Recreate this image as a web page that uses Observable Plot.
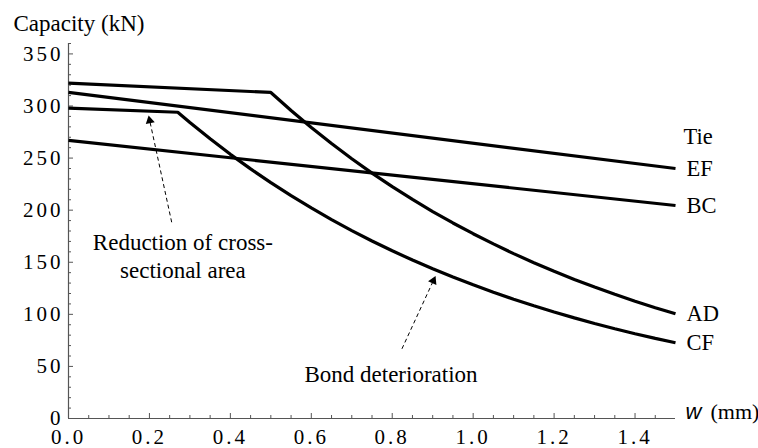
<!DOCTYPE html>
<html><head><meta charset="utf-8">
<script src="https://cdn.jsdelivr.net/npm/d3@7"></script>
<script src="https://cdn.jsdelivr.net/npm/@observablehq/plot@0.6"></script>
<style>
html,body{margin:0;padding:0;background:#fff;}
#chart svg{display:block;font-family:"Liberation Serif","Times New Roman",serif;}
#chart g[aria-label="x-axis tick label"], #chart g[aria-label="y-axis tick label"]{letter-spacing:3px;}
</style></head><body><div id="chart"></div>
<script>
// ---- data ----
const tieNames = ["EF", "BC", "AD", "CF"];
const wEF = [0.0, 1.5];
const capEF = [313, 240];
const wBC = [0.0, 1.5];
const capBC = [267, 204.5];
const wAD = [0.0, 0.5, 0.55, 0.6, 0.65, 0.7, 0.75, 0.8, 0.85, 0.9, 0.95, 1.0, 1.05, 1.1, 1.15, 1.2, 1.25, 1.3, 1.35, 1.4, 1.45, 1.5];
const capAD = [322, 313, 295.7, 279.4, 264.0, 249.4, 235.6, 222.6, 210.3, 198.7, 187.7, 177.4, 167.6, 158.3, 149.6, 141.3, 133.5, 126.2, 119.2, 112.6, 106.4, 100.5];
const wCF = [0.0, 0.27, 0.3, 0.35, 0.4, 0.45, 0.5, 0.55, 0.6, 0.65, 0.7, 0.75, 0.8, 0.85, 0.9, 0.95, 1.0, 1.05, 1.1, 1.15, 1.2, 1.25, 1.3, 1.35, 1.4, 1.45, 1.5];
const capCF = [298, 294, 284.2, 268.5, 253.6, 239.6, 226.4, 213.9, 202.1, 190.9, 180.4, 170.4, 161.0, 152.1, 143.7, 135.8, 128.3, 121.2, 114.5, 108.2, 102.2, 96.6, 91.2, 86.2, 81.4, 76.9, 72.7];

const xMajorTicks = [0.0, 0.2, 0.4, 0.6, 0.8, 1.0, 1.2, 1.4];
const yMajorTicks = [0, 50, 100, 150, 200, 250, 300, 350];
const yAxisTitle = "Capacity (kN)";
const xAxisVar = "w";
const xAxisUnit = "(mm)";
const legendTitle = "Tie";
const annReduction = {text: "Reduction of cross-\nsectional area", x: 0.2827, y: 156.6, tailX: 0.255, tailY: 188.4, tipX: 0.198, tipY: 290.9};
const annBond = {text: "Bond deterioration", x: 0.797, y: 34.8, tailX: 0.824, tailY: 66.9, tipX: 0.907, tipY: 136.8};

// ---- build table ----
const seriesW = {EF: wEF, BC: wBC, AD: wAD, CF: wCF};
const seriesC = {EF: capEF, BC: capBC, AD: capAD, CF: capCF};
const rows = tieNames.flatMap(t => seriesW[t].map((w, i) => ({tie: t, w, cap: seriesC[t][i]})));
const endRows = tieNames.map(t => ({tie: t, w: seriesW[t].at(-1), cap: seriesC[t].at(-1)}));

const W = 758, H = 448, mL = 68, mR = 83, mT = 43, mB = 30;
const xDomain = [0, 1.5], yDomain = [0, 360];
const kx = (W - mL - mR) / (xDomain[1] - xDomain[0]);
const ky = (H - mT - mB) / (yDomain[1] - yDomain[0]);
const xMinorTicks = d3.range(0.05, 1.5, 0.05).filter(v => Math.abs(v / 0.2 - Math.round(v / 0.2)) > 1e-6);
const yMinorTicks = d3.range(10, 361, 10).filter(v => v % 50 !== 0);

function arrowParts(a) {
  const dxp = (a.tipX - a.tailX) * kx, dyp = -(a.tipY - a.tailY) * ky;
  const len = Math.hypot(dxp, dyp), ux = dxp / len, uy = dyp / len;
  const back = 5.2;
  return {x1: a.tailX, y1: a.tailY, hx: a.tipX - ux * back / kx, hy: a.tipY + uy * back / ky, rotate: Math.atan2(ux, -uy) * 180 / Math.PI};
}
const arrows = [arrowParts(annReduction), arrowParts(annBond)];

const axisColor = "#555";
const serif = "Liberation Serif";
const sans = "Liberation Sans";

const chart = Plot.plot({
  width: W, height: H,
  marginLeft: mL, marginRight: mR, marginTop: mT, marginBottom: mB,
  x: {domain: xDomain},
  y: {domain: yDomain},
  style: {fontSize: "22px", color: "black", background: "white"},
  marks: [
    Plot.ruleX([xDomain[0]], {stroke: axisColor, strokeWidth: 1.2}),
    Plot.ruleY([yDomain[0]], {stroke: axisColor, strokeWidth: 1.2}),
    Plot.axisX(xMinorTicks, {tickSize: -3, tickFormat: () => "", stroke: axisColor, label: null}),
    Plot.axisX(xMajorTicks, {tickSize: -5, tickFormat: () => "", stroke: axisColor, label: null}),
    Plot.axisY(yMinorTicks, {tickSize: -3, tickFormat: () => "", stroke: axisColor, label: null}),
    Plot.axisY(yMajorTicks, {tickSize: -5, tickFormat: () => "", stroke: axisColor, label: null}),
    Plot.axisX(xMajorTicks, {tickSize: 0, tickPadding: 11, tickFormat: d3.format(".1f"), fontSize: 21, fontFamily: serif, fill: "black", label: null}),
    Plot.axisY(yMajorTicks, {tickSize: 0, tickPadding: 5, tickFormat: d3.format("d"), fontSize: 21, fontFamily: serif, fill: "black", label: null}),
    Plot.line(rows, {x: "w", y: "cap", z: "tie", stroke: "black", strokeWidth: 3.2, strokeLinecap: "butt", strokeLinejoin: "miter"}),
    Plot.text(endRows, {x: "w", y: "cap", text: "tie", dx: 11, textAnchor: "start", lineAnchor: "middle", fontSize: 22.5, fontFamily: serif, fill: "black"}),
    Plot.text(endRows.slice(0, 1), {x: "w", y: "cap", text: () => legendTitle, dx: 8, dy: -25, textAnchor: "start", lineAnchor: "bottom", fontSize: 22.5, fontFamily: serif, fill: "black"}),
    Plot.link(arrows, {x1: "x1", y1: "y1", x2: "hx", y2: "hy", stroke: "black", strokeWidth: 1, strokeDasharray: "4,3"}),
    Plot.dot(arrows, {x: "hx", y: "hy", symbol: "triangle", r: 3.4, fill: "black", stroke: "none", rotate: "rotate"}),
    Plot.text([annReduction], {x: "x", y: "y", text: "text", textAnchor: "middle", lineAnchor: "middle", lineHeight: 1.2, fontSize: 23, fontFamily: serif, fill: "black"}),
    Plot.text([annBond], {x: "x", y: "y", text: "text", textAnchor: "middle", lineAnchor: "bottom", fontSize: 23, fontFamily: serif, fill: "black"}),
    Plot.text([yAxisTitle], {frameAnchor: "top-left", textAnchor: "start", lineAnchor: "bottom", dx: -55, dy: -13, fontSize: 23, fontFamily: serif, fill: "black"}),
    Plot.text([xAxisVar], {frameAnchor: "bottom-right", textAnchor: "start", lineAnchor: "bottom", dx: 10, fontSize: 22, fontStyle: "italic", fontFamily: sans, fill: "black"}),
    Plot.text([xAxisUnit], {frameAnchor: "bottom-right", textAnchor: "start", lineAnchor: "bottom", dx: 35, fontSize: 22, fontFamily: serif, fill: "black"})
  ]
});
document.getElementById("chart").appendChild(chart);
</script>
</body></html>
